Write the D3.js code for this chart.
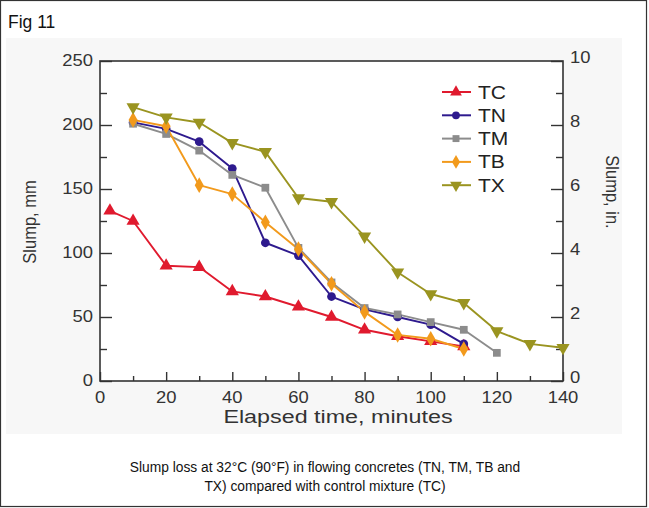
<!DOCTYPE html>
<html>
<head>
<meta charset="utf-8">
<script src="https://cdn.jsdelivr.net/npm/d3@7"></script>
<style>
  html, body { margin: 0; padding: 0; background: #fff; }
  svg { display: block; font-family: "Liberation Sans", Arial, Helvetica, sans-serif; }
</style>
</head>
<body>
<svg id="chart" width="649" height="508"></svg>
<script>
// Elapsed time (minutes) and slump (mm) for each mixture
const timesTC = [3, 10, 20, 30, 40, 50, 60, 70, 80, 90, 100, 110];
const slumpTC = [133, 125, 90, 89, 70, 66, 58, 50, 40, 35, 31, 27];

const timesTN = [10, 20, 30, 40, 50, 60, 70, 80, 90, 100, 110];
const slumpTN = [202, 197, 187, 166, 108, 98, 66, 56, 50, 44, 29];

const timesTM = [10, 20, 30, 40, 50, 60, 70, 80, 90, 100, 110, 120];
const slumpTM = [201, 193, 180, 161, 151, 104, 77, 57, 52, 46, 40, 22];

const timesTB = [10, 20, 30, 40, 50, 60, 70, 80, 90, 100, 110];
const slumpTB = [204, 199, 153, 146, 124, 103, 76, 54, 36, 33, 25];

const timesTX = [10, 20, 30, 40, 50, 60, 70, 80, 90, 100, 110, 120, 130, 140];
const slumpTX = [214, 206, 202, 186, 179, 143, 140, 113, 85, 68, 61, 39, 29, 26];

const seriesNames = ["TC", "TN", "TM", "TB", "TX"];
const seriesColors = ["#e01a2e", "#2e1a8e", "#8c8c8c", "#f29a1c", "#9a9420"];
const seriesShapes = [d3.symbolTriangle, d3.symbolCircle, d3.symbolSquare, d3.symbolDiamond, "triDown"];

const xTicks = [0, 20, 40, 60, 80, 100, 120, 140];
const yTicksMm = [0, 50, 100, 150, 200, 250];
const yTicksIn = [0, 2, 4, 6, 8, 10];

const series = [
  { t: timesTC, v: slumpTC },
  { t: timesTN, v: slumpTN },
  { t: timesTM, v: slumpTM },
  { t: timesTB, v: slumpTB },
  { t: timesTX, v: slumpTX }
].map((s, i) => ({
  name: seriesNames[i], color: seriesColors[i], shape: seriesShapes[i],
  points: s.t.map((t, j) => ({ t, v: s.v[j] }))
}));

const svg = d3.select("#chart");

// outer figure box
svg.append("rect").attr("x", 0.5).attr("y", 0.5).attr("width", 646).attr("height", 506)
  .attr("fill", "#fff").attr("stroke", "#333").attr("stroke-width", 1.2);

// faint background of the figure panel
svg.append("rect").attr("x", 6).attr("y", 38).attr("width", 616).attr("height", 396)
  .attr("fill", "#f7f7f7");

svg.append("text").attr("x", 8).attr("y", 28).attr("font-size", 17.5).attr("fill", "#111").text("Fig 11");

const pL = 100, pR = 563, pT = 61, pB = 381;
const x = d3.scaleLinear().domain([0, 140]).range([pL, pR]);
const y = d3.scaleLinear().domain([0, 250]).range([pB, pT]);
const yIn = d3.scaleLinear().domain([0, 10]).range([pB, pT]);

svg.append("rect").attr("x", pL).attr("y", pT).attr("width", pR - pL).attr("height", pB - pT)
  .attr("fill", "#fff");

const axisColor = "#333";
const tickFont = 16;
const widen = 1.15; // chart lettering is slightly wide

// text helper placing a horizontally widened label
function wideText(g, tx, ty, str, size, anchor, sx) {
  return g.append("text")
    .attr("transform", `translate(${tx},${ty}) scale(${sx},1)`)
    .attr("text-anchor", anchor).attr("font-size", size).attr("fill", axisColor).text(str);
}

// bottom axis: major ticks every 20, minor every 10, pointing inward
const gx = svg.append("g").attr("transform", `translate(0,${pB})`);
gx.call(d3.axisTop(x).tickValues(d3.range(10, 140, 20)).tickSize(5).tickFormat(""));
const gx2 = svg.append("g").attr("transform", `translate(0,${pB})`);
gx2.call(d3.axisTop(x).tickValues(xTicks).tickSize(9).tickFormat(""));
const xl = svg.append("g");
xTicks.forEach(d => wideText(xl, x(d), pB + 22, d, tickFont, "middle", widen));

// left axis (mm)
const gy = svg.append("g").attr("transform", `translate(${pL},0)`);
gy.call(d3.axisRight(y).tickValues(d3.range(25, 250, 50)).tickSize(7).tickFormat(""));
const gy2 = svg.append("g").attr("transform", `translate(${pL},0)`);
gy2.call(d3.axisRight(y).tickValues(yTicksMm).tickSize(12).tickFormat(""));
const yl = svg.append("g");
yTicksMm.forEach(d => wideText(yl, pL - 7, y(d) + 5, d, tickFont, "end", widen));

// right axis (in.)
const gr = svg.append("g").attr("transform", `translate(${pR},0)`);
gr.call(d3.axisLeft(yIn).tickValues(d3.range(1, 10, 2)).tickSize(7).tickFormat(""));
const gr2 = svg.append("g").attr("transform", `translate(${pR},0)`);
gr2.call(d3.axisLeft(yIn).tickValues(yTicksIn).tickSize(12).tickFormat(""));
const rl = svg.append("g");
yTicksIn.forEach(d => wideText(rl, pR + 7, yIn(d) + 2, d, tickFont, "start", widen));

[gx, gx2, gy, gy2, gr, gr2].forEach(g => {
  g.selectAll(".domain").remove();
  g.selectAll("line").attr("stroke", axisColor).attr("stroke-width", 1.4);
});

// plot frame
svg.append("rect").attr("x", pL).attr("y", pT).attr("width", pR - pL).attr("height", pB - pT)
  .attr("fill", "none").attr("stroke", axisColor).attr("stroke-width", 1.6);

// axis titles
wideText(svg, 338, 423, "Elapsed time, minutes", 18.5, "middle", 1.26);
svg.append("text").attr("transform", `translate(36,222) rotate(-90) scale(1,1.15)`)
  .attr("text-anchor", "middle").attr("font-size", 16.5).attr("fill", axisColor).text("Slump, mm");
svg.append("text").attr("transform", `translate(606,192) rotate(90) scale(1,1.15)`)
  .attr("text-anchor", "middle").attr("font-size", 16.5).attr("fill", axisColor).text("Slump, in.");

// marker shapes; the downward triangle is an up triangle rotated
function markerPath(shape, size) {
  const type = shape === "triDown" ? d3.symbolTriangle : shape;
  return d3.symbol().type(type).size(size)();
}
function markerTransform(shape, px, py) {
  return shape === "triDown" ? `translate(${px},${py}) rotate(180)` : `translate(${px},${py})`;
}
function sizeFor(shape) {
  if (shape === "triDown" || shape === d3.symbolTriangle) return 75;
  if (shape === d3.symbolDiamond) return 70;
  return 60;
}

const line = d3.line().x(d => x(d.t)).y(d => y(d.v));
const plot = svg.append("g");
series.forEach(s => {
  plot.append("path").datum(s.points).attr("d", line)
    .attr("fill", "none").attr("stroke", s.color).attr("stroke-width", 1.9).attr("stroke-linejoin", "round");
});
series.forEach(s => {
  plot.append("g").selectAll("path").data(s.points).join("path")
    .attr("d", markerPath(s.shape, sizeFor(s.shape)))
    .attr("transform", d => markerTransform(s.shape, x(d.t), y(d.v)))
    .attr("fill", s.color);
});

// legend
const lg = svg.append("g");
series.forEach((s, i) => {
  const ly = 92 + i * 23.3;
  lg.append("line").attr("x1", 442).attr("x2", 471).attr("y1", ly).attr("y2", ly)
    .attr("stroke", s.color).attr("stroke-width", 2);
  lg.append("path").attr("d", markerPath(s.shape, sizeFor(s.shape) * 0.8))
    .attr("transform", markerTransform(s.shape, 456, ly)).attr("fill", s.color);
  wideText(lg, 478, ly + 6.5, s.name, 17.5, "start", 1.2).attr("fill", "#222");
});

// caption
svg.append("text").attr("transform", "translate(325,472) scale(0.89,1)").attr("text-anchor", "middle")
  .attr("font-size", 15.5).attr("fill", "#111")
  .text("Slump loss at 32°C (90°F) in flowing concretes (TN, TM, TB and");
svg.append("text").attr("transform", "translate(325,491) scale(0.89,1)").attr("text-anchor", "middle")
  .attr("font-size", 15.5).attr("fill", "#111")
  .text("TX) compared with control mixture (TC)");
</script>
</body>
</html>
